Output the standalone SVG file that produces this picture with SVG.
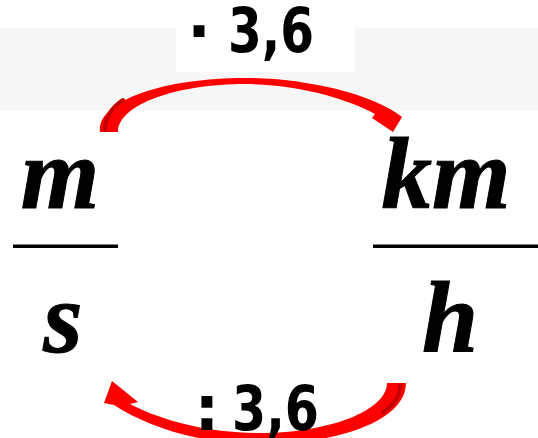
<svg xmlns="http://www.w3.org/2000/svg" width="538" height="438" viewBox="0 0 538 438">
<style>
.frac{font-family:"Liberation Serif","Times New Roman",serif;font-weight:bold;font-style:italic;font-size:101px;fill:#000;stroke:#000;stroke-width:1}
.lbl{font-family:"DejaVu Sans",sans-serif;font-weight:bold;font-size:62px;fill:#000}
.bar{fill:#000}
.arrow{fill:#ff0000}
.shade{fill:none;stroke:#c40000;stroke-width:4;stroke-linecap:round}
</style>
<rect x="0" y="0" width="538" height="438" fill="#fff"/>
<rect x="0" y="28" width="538" height="82" fill="#f7f7f7"/>
<rect x="176" y="0" width="179" height="72" fill="#fff"/>
<g id="connectors">
<g id="arrow-top">
<path class="arrow" d="M100,132 C97,100 165,78 245,78 C300,78 370,92 402,117 L393,132 L372,118 L375,114 C350,100 300,84 245,84 C178,84 118,104 118,132 Z"/>
<path class="shade" d="M105,130 C105,118 111,108 123,100"/>
</g>
<g id="arrow-bottom">
<path class="arrow" d="M406,383 C406,420 340,444 260,444 C195,444 145,425 114,405 L104,403 L112,381 L138,402 L130,404 C165,422 210,433 260,433 C330,433 387,410 387,383 Z"/>
<path class="shade" d="M400,385 C400,396 394,405 383,412"/>
</g>
</g>
<g id="fraction-ms">
<text class="frac" x="60" y="208" text-anchor="middle">m</text>
<rect class="bar" x="13" y="244.5" width="105" height="3.5"/>
<text class="frac" x="63" y="352" text-anchor="middle">s</text>
</g>
<g id="fraction-kmh">
<text class="frac" x="446" y="208" text-anchor="middle">km</text>
<rect class="bar" x="373" y="244.5" width="165" height="3.5"/>
<text class="frac" x="450" y="352" text-anchor="middle">h</text>
</g>
<g id="label-top">
<text class="lbl" x="199" y="53" text-anchor="middle">·</text>
<text class="lbl" x="228" y="52" textLength="86" lengthAdjust="spacingAndGlyphs">3,6</text>
</g>
<g id="label-bottom">
<text class="lbl" x="207" y="430" text-anchor="middle">:</text>
<text class="lbl" x="232" y="430" textLength="87" lengthAdjust="spacingAndGlyphs">3,6</text>
</g>
</svg>
